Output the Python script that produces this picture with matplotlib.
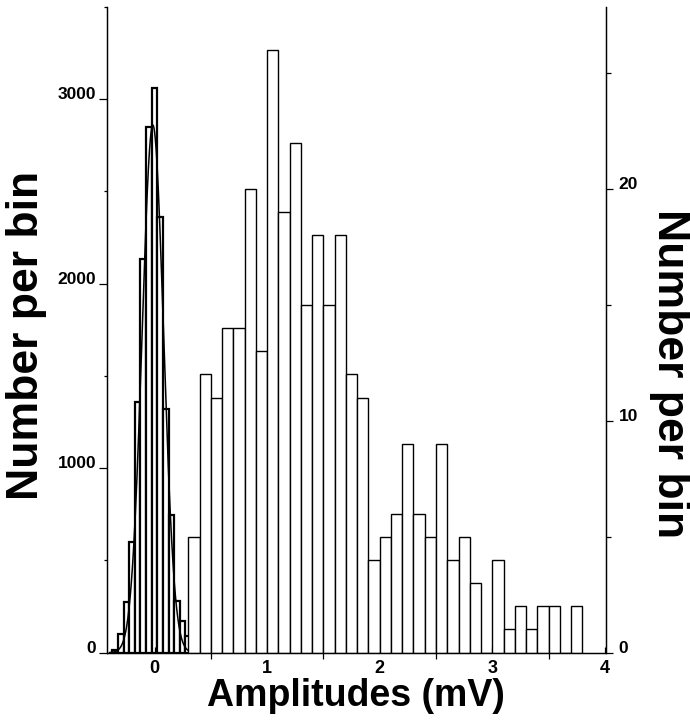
import matplotlib.pyplot as plt
import numpy as np
from matplotlib.ticker import MultipleLocator, FixedLocator

plt.rcParams['font.family'] = ['Liberation Sans', 'DejaVu Sans']
plt.rcParams['font.weight'] = 'bold'

# noise histogram (left axis), 0.05 mV bins centred on multiples of 0.05
noise_centers = [-0.35, -0.30, -0.25, -0.20, -0.15, -0.10, -0.05, 0.0,
                 0.05, 0.10, 0.15, 0.20, 0.25, 0.30, 0.35]
noise_counts = [15, 100, 275, 600, 1360, 2132, 2848, 3061,
                2364, 1323, 747, 280, 172, 90, 18]
noise_width = 0.05

# gaussian fit of the noise
fit_amp = 2860
fit_mu = -0.015
fit_sigma = 0.095

# evoked amplitudes (right axis), 0.1 mV bins, left edges
amp_left = [0.3, 0.4, 0.5, 0.6, 0.7, 0.8, 0.9, 1.0, 1.1, 1.2, 1.3, 1.4,
            1.5, 1.6, 1.7, 1.8, 1.9, 2.0, 2.1, 2.2, 2.3, 2.4, 2.5, 2.6,
            2.7, 2.8, 2.9, 3.0, 3.1, 3.2, 3.3, 3.4, 3.5, 3.6, 3.7]
amp_counts = [5, 12, 11, 14, 14, 20, 13, 26, 19, 22, 15, 18,
              15, 18, 12, 11, 4, 5, 6, 9, 6, 5, 9, 4,
              5, 3, 0, 4, 1, 2, 1, 2, 2, 0, 2]
amp_width = 0.1

fig = plt.figure(figsize=(6.9, 7.2), dpi=100)
ax = fig.add_axes([0.1546, 0.0935, 0.7237, 0.8968])
ax2 = ax.twinx()

# noise
ax.bar(noise_centers, noise_counts, width=noise_width, align='center',
       facecolor='white', edgecolor='black', linewidth=1.6)
xf = np.linspace(-0.4, 0.4, 300)
ax.plot(xf, fit_amp * np.exp(-0.5 * ((xf - fit_mu) / fit_sigma) ** 2),
        color='black', linewidth=1.1)

# amplitudes
ax2.bar(amp_left, amp_counts, width=amp_width, align='edge',
        facecolor='white', edgecolor='black', linewidth=1.0)

ax.set_xlim(-0.425, 4.01)
ax.set_ylim(0, 3500)
ax2.set_ylim(0, 27.85)

for a in (ax, ax2):
    a.spines['top'].set_visible(False)
    for s in a.spines.values():
        s.set_linewidth(0.9)

ax.set_yticks([0, 1000, 2000, 3000])
ax.yaxis.set_minor_locator(MultipleLocator(500))
ax2.set_yticks([0, 10, 20])
ax2.yaxis.set_minor_locator(MultipleLocator(5))
ax.set_xticks([0, 1, 2, 3, 4])
ax.xaxis.set_minor_locator(FixedLocator([0.5, 1.5, 2.5, 3.5]))

ax.tick_params(axis='y', which='major', direction='out', length=6, width=0.9,
               labelsize=12.5, pad=1.5)
ax.tick_params(axis='y', which='minor', direction='out', length=2.5, width=0.9)
ax2.tick_params(axis='y', which='major', direction='out', length=5, width=0.9,
                labelsize=12.5, pad=4)
ax2.tick_params(axis='y', which='minor', direction='out', length=3.5, width=0.9)
ax.tick_params(axis='x', which='major', direction='in', length=4, width=0.9,
               labelsize=13, pad=5)
ax.tick_params(axis='x', which='minor', direction='out', length=4.5, width=0.9)

for lab in ax.get_yticklabels() + ax2.get_yticklabels():
    lab.set_verticalalignment('baseline')

ax.set_xlabel('Amplitudes (mV)', fontsize=27, fontweight='bold', labelpad=1)
ax.set_ylabel('Number per bin', fontsize=32, fontweight='bold',
              va='center', ha='center')
ax.yaxis.set_label_coords(-0.161, 0.492)
ax2.set_ylabel('Number per bin', fontsize=32, fontweight='bold',
               rotation=-90, va='center', ha='center')
ax2.yaxis.set_label_coords(1.128, 0.432)

fig.savefig('out.png', dpi=100)
